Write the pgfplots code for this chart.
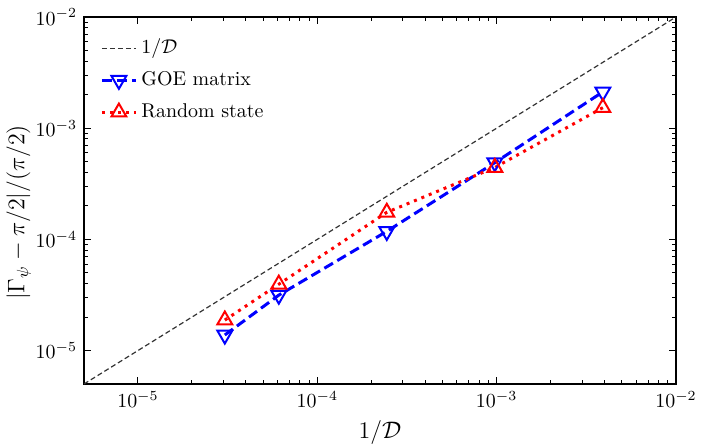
\documentclass[border=0pt]{standalone}
\usepackage{pgfplots}
\pgfplotsset{compat=1.18}
\begin{document}
\begin{tikzpicture}
\path[use as bounding box] (-42bp,-32bp) rectangle (311bp,192bp);
\begin{loglogaxis}[
  scale only axis, width=296bp, height=183.5bp,
  xmin=5e-6, xmax=1e-2, ymin=5e-6, ymax=1e-2,
  xtick={1e-5,1e-4,1e-3,1e-2}, ytick={1e-5,1e-4,1e-3,1e-2},
  tick align=inside, xtick pos=both, ytick pos=both,
  major tick length=3.5bp, minor tick length=2bp,
  every tick/.style={black, line width=0.5bp},
  axis line style={line width=0.8bp},
  xlabel={\large $1/\mathcal{D}$},
  ylabel={\large $|\Gamma_\psi-\pi/2|/(\pi/2)$},
  ylabel style={yshift=-4.5bp, xshift=-6bp},
  legend style={draw=none, fill=none, at={(0,1)}, anchor=north west, xshift=8bp, yshift=-9bp,
    inner sep=0pt, row sep=3bp, font=\normalsize,
    nodes={text height=7pt, text depth=2pt, inner sep=2pt}},
  legend cell align=left,
]
\addplot[color=black!80, line width=0.6bp, dash pattern=on 2.5bp off 1.5bp] coordinates {(5e-6,5e-6) (1e-2,1e-2)};
\addlegendentry{$1/\mathcal{D}$}
\addplot[color=blue, line width=1.5bp, dash pattern=on 5bp off 2.5bp, mark=triangle, mark size=4.3pt, mark options={solid, rotate=180, line width=1bp}] coordinates {
(3.05e-5,1.38e-5) (6.10e-5,3.15e-5) (2.44e-4,1.18e-4) (9.77e-4,4.9e-4) (3.91e-3,2.12e-3)};
\addlegendentry{GOE matrix}
\addplot[color=red, line width=1.5bp, dash pattern=on 1.5bp off 2.5bp, mark=triangle, mark size=4.3pt, mark options={solid, line width=1bp}] coordinates {
(3.05e-5,1.88e-5) (6.10e-5,3.95e-5) (2.44e-4,1.75e-4) (9.77e-4,4.43e-4) (3.91e-3,1.53e-3)};
\addlegendentry{Random state}
\end{loglogaxis}
\end{tikzpicture}
\end{document}
